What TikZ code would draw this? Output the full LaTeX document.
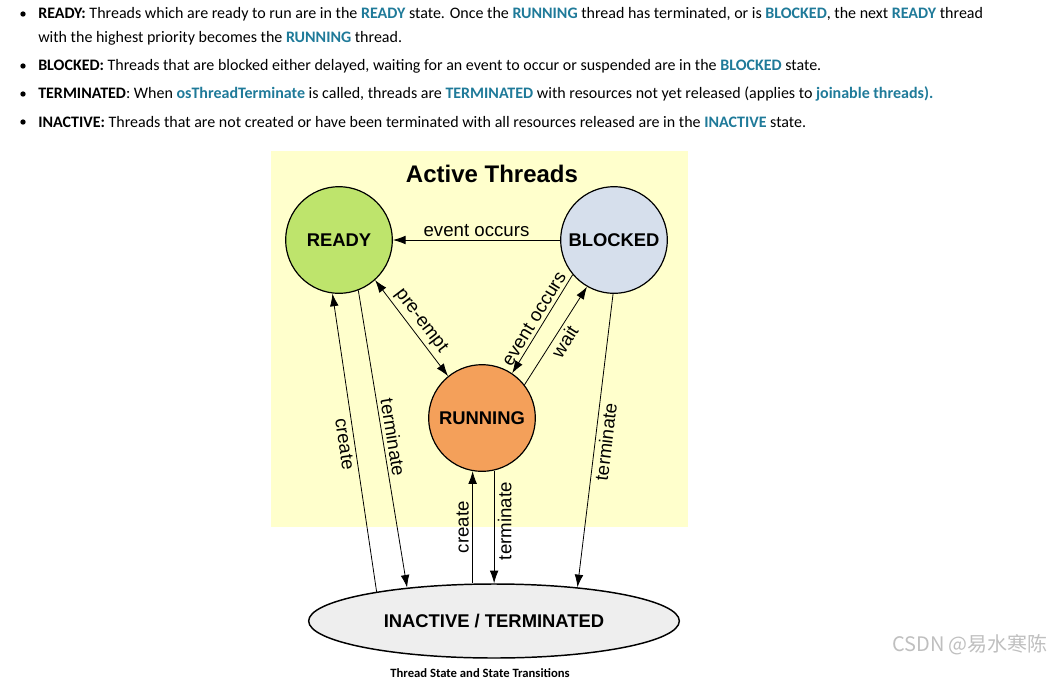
\documentclass[tikz,border=0pt]{standalone}
\usepackage{fontspec}
\setmainfont{Carlito}
\newfontfamily\diagfont{Liberation Sans}
\newfontfamily\cjkfont{Noto Sans CJK SC}
\usepackage{xcolor}
\usetikzlibrary{shapes.geometric,arrows.meta,positioning,calc}

\definecolor{kwblue}{RGB}{31,122,153}
\definecolor{activebg}{RGB}{255,255,204}
\definecolor{readygreen}{RGB}{190,228,108}
\definecolor{blockedblue}{RGB}{214,223,236}
\definecolor{runorange}{RGB}{244,160,90}
\definecolor{inactivegray}{RGB}{238,238,238}
\newcommand{\kw}[1]{\textcolor{kwblue}{\textbf{#1}}}

\begin{document}
\begin{tikzpicture}[
    x=0.75pt, y=-0.75pt,
    state/.style={circle, draw, line width=0.9pt, minimum size=80pt, inner sep=0pt, align=center, font=\diagfont\fontsize{13.8}{16}\selectfont\bfseries},
    inactivestate/.style={ellipse, draw, line width=1.1pt, fill=inactivegray, minimum width=278pt, minimum height=55.5pt, inner sep=0pt, font=\diagfont\fontsize{13.8}{16}\selectfont\bfseries},
    arrow/.style={->, >={Latex[length=9.5pt, width=6.5pt]}, line width=0.6pt},
    edgelabel/.style={font=\diagfont\fontsize{14}{16}\selectfont, inner sep=2.5pt},
    noteline/.style={anchor=west, inner sep=0pt, font=\fontsize{12}{14}\selectfont},
    bulletdot/.style={circle, fill=black, inner sep=0pt, minimum size=4pt},
    watermark/.style={font=\cjkfont\fontsize{15}{17}\selectfont, text=black!25}
]
\useasboundingbox (0,0) rectangle (1054,690);

% Notes above the diagram
\node[bulletdot] (dot-ready) at (23,14) {};
\node[noteline] (note-ready) at (38,14) {\textbf{READY:} Threads which are ready to run are in the \kw{READY} state. Once the \kw{RUNNING} thread has terminated, or is \kw{BLOCKED}, the next \kw{READY} thread};
\node[noteline] (note-ready2) at (38,38) {with the highest priority becomes the \kw{RUNNING} thread.};
\node[bulletdot] (dot-blocked) at (23,66) {};
\node[noteline] (note-blocked) at (38,66) {\textbf{BLOCKED:} Threads that are blocked either delayed, waiting for an event to occur or suspended are in the \kw{BLOCKED} state.};
\node[bulletdot] (dot-term) at (23,94) {};
\node[noteline] (note-term) at (38,94) {\textbf{TERMINATED}: When \kw{osThreadTerminate} is called, threads are \kw{TERMINATED} with resources not yet released (applies to \kw{joinable threads).}};
\node[bulletdot] (dot-inactive) at (23,122) {};
\node[noteline] (note-inactive) at (38,122) {\textbf{INACTIVE:} Threads that are not created or have been terminated with all resources released are in the \kw{INACTIVE} state.};

% Active threads area
\fill[activebg] (271,151) rectangle (688,527);
\node[font=\diagfont\fontsize{18}{20}\selectfont\bfseries] (active-title) at (492,174) {Active Threads};

% States
\node[state, fill=readygreen] (ready) at (339,240) {READY};
\node[state, fill=blockedblue] (blocked) at (614,240) {BLOCKED};
\node[state, fill=runorange] (running) at (482,418) {RUNNING};
\node[inactivestate] (inactive) at (494,621) {INACTIVE / TERMINATED};

% Transitions between active states
\draw[arrow] (blocked) -- (ready) node[midway, above, edgelabel] {event occurs};
\draw[arrow, <->] (ready.-48) -- (running.129) node[midway, sloped, above, edgelabel] {pre-empt};
\draw[arrow] (blocked.-140) -- (running.56) node[midway, sloped, above, edgelabel] {event occurs};
\draw[arrow] (running.38) -- (blocked.-120) node[midway, sloped, below, edgelabel] {wait};

% Transitions to and from inactive
\draw[arrow] (inactive.166) -- (ready.-97) node[midway, sloped, below, edgelabel] {create};
\draw[arrow] (ready.-69) -- (inactive.159) node[midway, sloped, above, edgelabel] {terminate};
\draw[arrow] (inactive.north -| running.-100) -- (running.-100) node[midway, rotate=90, above, edgelabel] {create};
\draw[arrow] (running.-77) -- (running.-77 |- inactive.north) node[pos=0.45, rotate=90, below, edgelabel] {terminate};
\draw[arrow] (blocked.-91) -- (inactive.22) node[midway, sloped, below, edgelabel] {terminate};

% Caption
\node[font=\fontsize{9.5}{11}\selectfont\bfseries] (caption) at (480,673) {Thread State and State Transitions};
\node[watermark] (csdn) at (970,645) {CSDN @易水寒陈};

\end{tikzpicture}
\end{document}
